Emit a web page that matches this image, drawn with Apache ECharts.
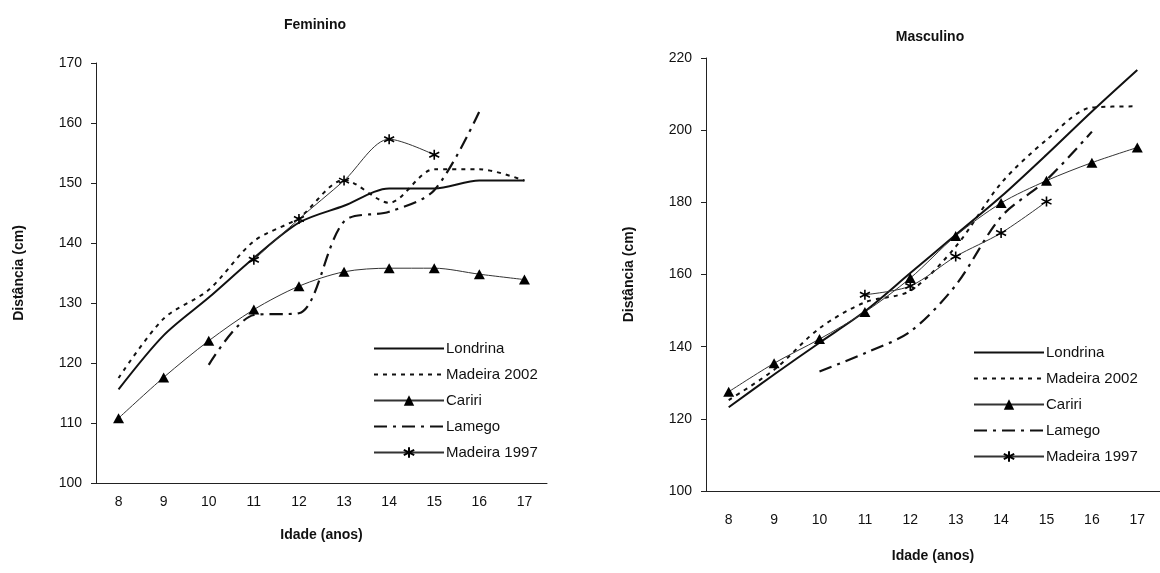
<!DOCTYPE html>
<html style="height: 100%">
<head>
	<meta charset="utf-8">
	<script type="text/javascript" src="https://cdn.jsdelivr.net/npm/echarts@6/dist/echarts.min.js"></script>
</head>
<body style="height: 100%; margin: 0; background: #fff">
	<div id="container" style="width:1160px; height:573px"></div>
	<script>
	var idades = ['8', '9', '10', '11', '12', '13', '14', '15', '16', '17'];
	var nomes = ['Londrina', 'Madeira 2002', 'Cariri', 'Lamego', 'Madeira 1997'];

	// Feminino
	var femLondrina = [115.6, 124.6, 130.9, 137.5, 143.4, 146.2, 149.1, 149.1, 150.4, 150.4];
	var femMadeira2002 = [117.5, 127.4, 132.2, 140.3, 144.2, 150.5, 146.7, 152.3, 152.3, 150.4];
	var femCariri = [110.8, 117.6, 123.7, 128.9, 132.8, 135.2, 135.8, 135.8, 134.8, 133.9];
	var femLamego = [null, null, 119.7, 128.0, 128.3, 143.6, 145.2, 148.8, 161.9, null];
	var femMadeira1997 = [null, null, null, 137.2, 144.0, 150.4, 157.3, 154.7, null, null];

	// Masculino
	var mascLondrina = [123.2, 132.3, 141.1, 149.8, 160.4, 171.0, 181.6, 193.2, 205.2, 216.7];
	var mascMadeira2002 = [125.2, 133.6, 145.1, 152.3, 155.5, 167.7, 185.3, 197.3, 206.3, 206.6];
	var mascCariri = [127.5, 135.4, 142.1, 149.6, 159.0, 170.7, 179.8, 186.0, 191.0, 195.2];
	var mascLamego = [null, null, 133.1, 138.2, 144.2, 157.0, 176.0, 186.2, 199.6, null];
	var mascMadeira1997 = [null, null, null, 154.4, 156.8, 165.0, 171.5, 180.2, null, null];

	var asterisco = 'path://M5 0L5 10M0.7 2.5L9.3 7.5M9.3 2.5L0.7 7.5';
	var fonte = 'Liberation Sans, Arial, sans-serif';
	var fonteLegenda = 'Liberation Sans Narrow, Liberation Sans, sans-serif';

	function series(idx, d) {
		return [
			{name: 'Londrina', type: 'line', xAxisIndex: idx, yAxisIndex: idx, data: d[0], smooth: 0.3,
				symbol: 'none', itemStyle: {color: '#111'}, lineStyle: {color: '#111', width: 2}},
			{name: 'Madeira 2002', type: 'line', xAxisIndex: idx, yAxisIndex: idx, data: d[1], smooth: 0.3,
				symbol: 'none', itemStyle: {color: '#111'}, lineStyle: {color: '#111', width: 2, type: [4, 5]}},
			{name: 'Cariri', type: 'line', xAxisIndex: idx, yAxisIndex: idx, data: d[2], smooth: 0.3,
				symbol: 'triangle', symbolSize: [11, 10], itemStyle: {color: '#000'},
				lineStyle: {color: '#333', width: 1}},
			{name: 'Lamego', type: 'line', xAxisIndex: idx, yAxisIndex: idx, data: d[3], smooth: 0.3,
				symbol: 'none', itemStyle: {color: '#111'}, lineStyle: {color: '#111', width: 2.2, type: [13, 6, 3, 6]}},
			{name: 'Madeira 1997', type: 'line', xAxisIndex: idx, yAxisIndex: idx, data: d[4], smooth: 0.3,
				symbol: asterisco, symbolSize: 10,
				itemStyle: {color: 'transparent', borderColor: '#000', borderWidth: 1.6},
				lineStyle: {color: '#333', width: 1}}
		];
	}

	function eixoX(idx, gap, margem) {
		return {
			type: 'category', gridIndex: idx, data: idades, boundaryGap: true,
			name: 'Idade (anos)', nameLocation: 'middle', nameGap: gap,
			nameTextStyle: {fontFamily: fonte, fontWeight: 'bold', fontSize: 14, color: '#111'},
			axisLine: {lineStyle: {color: '#222', width: 1}},
			axisTick: {length: 6, lineStyle: {color: '#222'}},
			axisLabel: {fontFamily: fonte, fontSize: 14, color: '#111', margin: margem}
		};
	}

	function eixoY(idx, min, max, step) {
		return {
			type: 'value', gridIndex: idx, min: min, max: max, interval: step,
			name: 'Distância (cm)', nameLocation: 'middle', nameGap: 70, nameRotate: 90,
			nameTextStyle: {fontFamily: fonte, fontWeight: 'bold', fontSize: 14, color: '#111'},
			axisLine: {show: true, lineStyle: {color: '#222', width: 1}},
			axisTick: {show: true, length: 5, lineStyle: {color: '#222'}},
			axisLabel: {fontFamily: fonte, fontSize: 14, color: '#111', margin: 14},
			splitLine: {show: false}
		};
	}

	// sem símbolo na legenda para as séries só de linha
	var itensLegenda = nomes.map(function (n) {
		if (n === 'Cariri' || n === 'Madeira 1997') return {name: n};
		return {name: n, itemStyle: {opacity: 0}};
	});

	function legenda(left, top) {
		return {
			data: itensLegenda, orient: 'vertical', left: left, top: top,
			itemWidth: 70, itemHeight: 13, itemGap: 11,
			textStyle: {fontFamily: fonteLegenda, fontSize: 15, color: '#111', padding: [0, 0, 0, -3]},
			selectedMode: false
		};
	}

	var myChart = echarts.init(document.getElementById('container'));
	var option = {
		animation: false,
		backgroundColor: '#fff',
		title: [
			{text: 'Feminino', left: 310, top: 13, textAlign: 'center',
				textStyle: {fontFamily: fonte, fontSize: 14, fontWeight: 'bold', color: '#111'}},
			{text: 'Masculino', left: 925, top: 25, textAlign: 'center',
				textStyle: {fontFamily: fonte, fontSize: 14, fontWeight: 'bold', color: '#111'}}
		],
		legend: [legenda(368, 336), legenda(968, 340)],
		grid: [
			{left: 96, top: 63, width: 451, height: 420},
			{left: 706, top: 58, width: 458, height: 433}
		],
		xAxis: [eixoX(0, 45, 12), eixoX(1, 58, 22)],
		yAxis: [eixoY(0, 100, 170, 10), eixoY(1, 100, 220, 20)],
		series: series(0, [femLondrina, femMadeira2002, femCariri, femLamego, femMadeira1997])
			.concat(series(1, [mascLondrina, mascMadeira2002, mascCariri, mascLamego, mascMadeira1997]))
	};
	myChart.setOption(option);
	</script>
</body>
</html>
